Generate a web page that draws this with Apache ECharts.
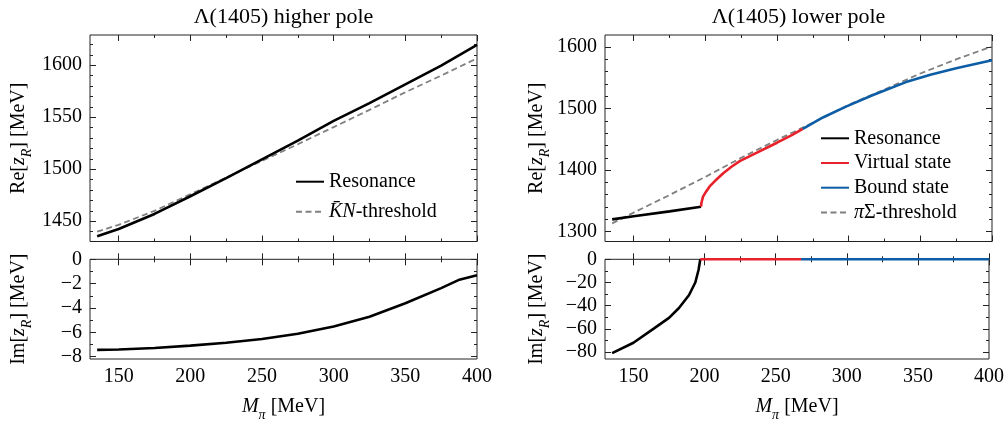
<!DOCTYPE html>
<html>
<head>
<meta charset="utf-8">
<title>Lambda(1405) poles</title>
<script src="https://cdn.jsdelivr.net/npm/echarts@6/dist/echarts.min.js"></script>
<style>
  html, body { margin: 0; padding: 0; background: #fff; }
  #chart { width: 1007px; height: 423px; }
</style>
</head>
<body>
<div id="chart"></div>
<script>
// higher pole, Re and Im
var mpiHigh = [135, 150, 175, 200, 225, 250, 275, 300, 325, 350, 375, 400];
var reHigh = [1435.5, 1442.5, 1457, 1474, 1491.5, 1509.5, 1527.5, 1546.5, 1563.5, 1581.5, 1599.5, 1619.5];
var kbarNThreshold = [1440, 1446.5, 1460, 1476, 1492, 1508, 1524, 1540.5, 1557, 1574, 1590, 1606.5];
var mpiImHigh = [135, 150, 175, 200, 225, 250, 275, 300, 325, 350, 375, 387, 400];
var imHigh = [-7.45, -7.42, -7.3, -7.1, -6.86, -6.55, -6.13, -5.52, -4.73, -3.62, -2.37, -1.71, -1.32];

// lower pole, Re
var mpiResLow = [135, 150, 175, 197];
var reResLow = [1320, 1325, 1333, 1340.5];
var mpiVirtual = [197, 197.3, 198.4, 200.5, 203, 207, 212.5, 218, 224, 236, 250, 260, 268];
var reVirtual = [1340.5, 1347, 1357, 1365, 1373.5, 1383, 1395, 1405, 1414.5, 1428.5, 1444.5, 1456.5, 1467];
var mpiBound = [268, 282, 298.5, 317, 340, 357, 375, 400];
var reBound = [1467, 1485.5, 1503.5, 1522, 1543, 1555, 1565.5, 1578.5];
var mpiPiSigma = [135, 150, 175, 200, 225, 250, 275, 300, 325, 350, 375, 400];
var piSigmaThreshold = [1313.5, 1331, 1359.5, 1389, 1420, 1449, 1477, 1506, 1531, 1557, 1580, 1601];

// lower pole, Im
var mpiImRes = [135, 150, 164, 175, 182, 189, 193.5, 195.8, 196.6, 197];
var imRes = [-81, -72, -60, -50.5, -42, -31, -20, -9, -3, 0];
var mpiImVirtual = [197, 268];
var imVirtual = [0, 0];
var mpiImBound = [268, 400];
var imBound = [0, 0];

// tick labels
var xTicks = [150, 200, 250, 300, 350, 400];
var reHighTicks = [1450, 1500, 1550, 1600];
var imHighTicks = [-8, -6, -4, -2, 0];
var reLowTicks = [1300, 1400, 1500, 1600];
var imLowTicks = [-80, -60, -40, -20, 0];

var FONT = 'Liberation Serif';
var INK = '#000';
var FRAME = '#222';

function minorTicks(min, max, step, majors) {
    var out = [];
    for (var v = Math.ceil(min / step) * step; v <= max; v += step) {
        if (majors.indexOf(v) < 0) out.push(v);
    }
    return out;
}

var nameRich = {
    r: { fontFamily: FONT, fontSize: 20, color: INK, padding: [0, 0, 5, 0], verticalAlign: 'bottom' },
    i: { fontFamily: FONT, fontSize: 20, color: INK, fontStyle: 'italic', padding: [0, 0, 5, 0], verticalAlign: 'bottom' },
    s: { fontFamily: FONT, fontSize: 14, color: INK, fontStyle: 'italic', verticalAlign: 'bottom' }
};

// four axes per side pair: main (labels), minor, opposite main, opposite minor
function axisSet(dim, grid, min, max, majors, step, labels, name, nameGap) {
    var minors = minorTicks(min, max, step, majors);
    var sides = dim === 'x' ? ['bottom', 'top'] : ['left', 'right'];
    var list = [];
    sides.forEach(function (side, k) {
        [majors, minors].forEach(function (vals, m) {
            var a = {
                type: 'value', gridIndex: grid, position: side, min: min, max: max,
                axisLine: { show: false },
                splitLine: { show: false },
                axisTick: { show: true, inside: true, length: m ? 3 : 6, customValues: vals,
                            lineStyle: { color: FRAME, width: 1 } },
                axisLabel: { show: false }
            };
            if (k === 0 && m === 0) {
                if (labels) {
                    a.axisLabel = {
                        show: true, customValues: vals, margin: 8,
                        fontFamily: FONT, fontSize: 20, color: INK,
                        formatter: function (v) { return String(v).replace('-', '\u2212'); }
                    };
                }
                if (name) {
                    a.name = name;
                    a.nameLocation = 'middle';
                    a.nameGap = nameGap;
                    a.nameTextStyle = { fontFamily: FONT, fontSize: 20, color: INK, rich: nameRich };
                }
            }
            list.push(a);
        });
    });
    return list;
}

var reName = '{r|Re[}{i|z}{s|R}{r|] [MeV]}';
var imName = '{r|Im[}{i|z}{s|R}{r|] [MeV]}';
var mName = '{i|M}{s|\u03c0}{r| [MeV]}';

var xAxes = [].concat(
    axisSet('x', 0, 130, 400, xTicks, 25, false),
    axisSet('x', 1, 130, 400, xTicks, 25, true, mName, 38),
    axisSet('x', 2, 130, 400, xTicks, 25, false),
    axisSet('x', 3, 130, 400, xTicks, 25, true, mName, 38)
);
var yAxes = [].concat(
    axisSet('y', 0, 1430.5, 1629, reHighTicks, 10, true, reName, 56),
    axisSet('y', 1, -8.2, 0, imHighTicks, 1, true, imName, 56),
    axisSet('y', 2, 1284, 1619.5, reLowTicks, 20, true, reName, 53),
    axisSet('y', 3, -86, 0, imLowTicks, 10, true, imName, 53)
);

function line(name, grid, xs, ys, color, dashed) {
    return {
        name: name, type: 'line', xAxisIndex: grid * 4, yAxisIndex: grid * 4,
        data: xs.map(function (x, i) { return [x, ys[i]]; }),
        symbol: 'none', silent: true,
        lineStyle: { color: color, width: dashed ? 1.8 : 2.6, type: dashed ? [6, 3.5] : 'solid' },
        itemStyle: { color: color }
    };
}

var BLACK = '#000000', RED = '#e8212a', BLUE = '#0c5da5', GREY = '#808080';

var legendText = {
    fontFamily: FONT, fontSize: 20, color: INK, lineHeight: 20,
    rich: { i: { fontFamily: FONT, fontSize: 20, color: INK, fontStyle: 'italic', lineHeight: 20 } }
};
function legendFmt(name) {
    if (name === 'K\u0304N-threshold') return '{i|K\u0304N}-threshold';
    if (name === '\u03c0\u03a3-threshold') return '{i|\u03c0}\u03a3-threshold';
    return name;
}
// line samples only, no marker in the legend
var legendBase = {
    orient: 'vertical', padding: 0, itemWidth: 28, itemHeight: 14, selectedMode: false,
    itemStyle: { opacity: 0, color: 'rgba(0,0,0,0)', borderWidth: 0 },
    textStyle: legendText, formatter: legendFmt
};

var chart = echarts.init(document.getElementById('chart'));
chart.setOption({
    animation: false,
    backgroundColor: '#fff',
    graphic: [
        { type: 'text', x: 283.5, y: 17, style: { text: '\u039b(1405) higher pole', align: 'center', verticalAlign: 'middle',
          fontFamily: FONT, fontSize: 22, fill: INK } },
        { type: 'text', x: 798.5, y: 17, style: { text: '\u039b(1405) lower pole', align: 'center', verticalAlign: 'middle',
          fontFamily: FONT, fontSize: 22, fill: INK } }
    ],
    grid: [
        { left: 90, top: 35, width: 387, height: 206.5, show: true, borderColor: FRAME, borderWidth: 1 },
        { left: 90, top: 259.3, width: 387, height: 104, show: true, borderColor: FRAME, borderWidth: 1 },
        { left: 605, top: 35, width: 387, height: 206.5, show: true, borderColor: FRAME, borderWidth: 1 },
        { left: 605, top: 259.3, width: 387, height: 104, show: true, borderColor: FRAME, borderWidth: 1 }
    ],
    xAxis: xAxes,
    yAxis: yAxes,
    legend: [
        Object.assign({ data: ['Resonance', 'K\u0304N-threshold'], left: 295, top: 171.7, itemGap: 10 }, legendBase),
        Object.assign({ data: ['Resonance', 'Virtual state', 'Bound state', '\u03c0\u03a3-threshold'],
                        left: 820, top: 128.3, itemGap: 4.7 }, legendBase)
    ],
    series: [
        line('K\u0304N-threshold', 0, mpiHigh, kbarNThreshold, GREY, true),
        line('Resonance', 0, mpiHigh, reHigh, BLACK),
        line('Im higher', 1, mpiImHigh, imHigh, BLACK),
        line('\u03c0\u03a3-threshold', 2, mpiPiSigma, piSigmaThreshold, GREY, true),
        line('Resonance', 2, mpiResLow, reResLow, BLACK),
        line('Virtual state', 2, mpiVirtual, reVirtual, RED),
        line('Bound state', 2, mpiBound, reBound, BLUE),
        line('Im resonance', 3, mpiImRes, imRes, BLACK),
        line('Im virtual', 3, mpiImVirtual, imVirtual, RED),
        line('Im bound', 3, mpiImBound, imBound, BLUE)
    ]
});
</script>
</body>
</html>
